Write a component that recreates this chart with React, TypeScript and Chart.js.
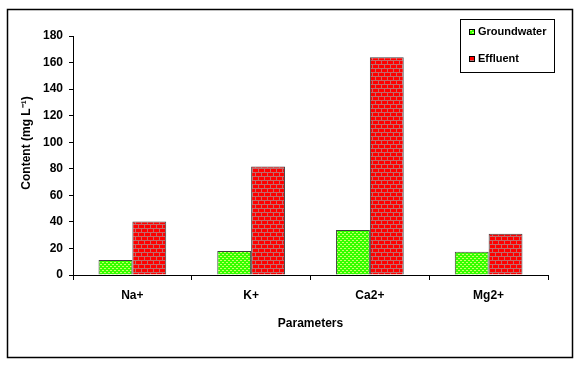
import React, { useEffect, useRef } from "react";
import { Chart, registerables } from "chart.js";

Chart.register(...registerables);

const categories = ["Na+", "K+", "Ca2+", "Mg2+"];
const groundwater = [11.3, 18, 33.8, 17.5];
const effluent = [40.3, 81.8, 164, 31];
const seriesNames = ["Groundwater", "Effluent"];
const yTicks = [0, 20, 40, 60, 80, 100, 120, 140, 160, 180];
const yTitle = "Content (mg L⁻¹)";
const xTitle = "Parameters";

function makeBrick(): CanvasPattern | string {
  const c = document.createElement("canvas");
  c.width = 12;
  c.height = 8;
  const g = c.getContext("2d");
  if (!g) return "#ff0000";
  g.fillStyle = "#ff0000";
  g.fillRect(0, 0, 12, 8);
  g.fillStyle = "#c06a6a";
  g.fillRect(0, 0, 12, 1);
  g.fillRect(0, 4, 12, 1);
  g.fillRect(0, 0, 1, 4);
  g.fillRect(6, 0, 1, 4);
  g.fillRect(3, 4, 1, 4);
  g.fillRect(9, 4, 1, 4);
  return g.createPattern(c, "repeat") || "#ff0000";
}

function makeDots(): CanvasPattern | string {
  const c = document.createElement("canvas");
  c.width = 4;
  c.height = 4;
  const g = c.getContext("2d");
  if (!g) return "#33ff00";
  g.fillStyle = "#33ff00";
  g.fillRect(0, 0, 4, 4);
  g.fillStyle = "#ccff66";
  g.fillRect(0, 0, 2, 1);
  g.fillRect(2, 2, 2, 1);
  return g.createPattern(c, "repeat") || "#33ff00";
}

export default function App() {
  const ref = useRef<HTMLCanvasElement | null>(null);
  useEffect(() => {
    if (!ref.current) return;
    const brick = makeBrick();
    const dots = makeDots();
    const fills = [dots, brick];
    const family = "'Liberation Sans', Arial, sans-serif";
    const font = { family, size: 12, weight: "bold" as const };

    const decor = {
      id: "decor",
      afterDraw(chart: any) {
        const ctx = chart.ctx;
        ctx.save();
        // outer frame
        ctx.strokeStyle = "#000";
        ctx.lineWidth = 1.5;
        ctx.strokeRect(7.5, 9.5, 565, 348);
        // y title
        ctx.save();
        ctx.translate(27, 143);
        ctx.rotate(-Math.PI / 2);
        ctx.font = `bold 12px ${family}`;
        ctx.fillStyle = "#000";
        ctx.textAlign = "center";
        ctx.textBaseline = "middle";
        ctx.fillText(yTitle, 0, 0);
        ctx.restore();
        // legend
        ctx.lineWidth = 1;
        ctx.strokeStyle = "#000";
        ctx.strokeRect(460.5, 19.5, 94, 53);
        ctx.font = `bold 11px ${family}`;
        ctx.textBaseline = "middle";
        ctx.textAlign = "left";
        const ys = [32, 59];
        seriesNames.forEach((n, i) => {
          ctx.fillStyle = fills[i];
          ctx.fillRect(469, ys[i] - 3, 6, 6);
          ctx.strokeStyle = "#000";
          ctx.strokeRect(469.5, ys[i] - 2.5, 5, 5);
          ctx.fillStyle = "#000";
          ctx.fillText(n, 478, ys[i]);
        });
        ctx.restore();
      },
    };

    const chart = new Chart(ref.current, {
      type: "bar",
      data: {
        labels: categories,
        datasets: [
          {
            label: seriesNames[0],
            data: groundwater,
            backgroundColor: dots as any,
            borderColor: "#404040",
            borderWidth: 1,
            categoryPercentage: 0.57,
            barPercentage: 1,
          },
          {
            label: seriesNames[1],
            data: effluent,
            backgroundColor: brick as any,
            borderColor: "#404040",
            borderWidth: 1,
            categoryPercentage: 0.57,
            barPercentage: 1,
          },
        ],
      },
      options: {
        responsive: false,
        animation: false,
        devicePixelRatio: 1,
        layout: { padding: { top: 36, right: 31, bottom: 0, left: 0 } },
        plugins: {
          legend: { display: false },
          tooltip: { enabled: false },
        },
        scales: {
          x: {
            grid: {
              display: true,
              drawOnChartArea: false,
              drawTicks: true,
              tickLength: 5,
              color: "#000",
              offset: true,
            },
            border: { display: true, color: "#000", width: 1 },
            ticks: { color: "#000", font, padding: 8 },
            title: {
              display: true,
              text: xTitle,
              color: "#000",
              font,
              padding: { top: 16, bottom: 35 },
            },
            afterFit(scale: any) {
              scale.height = 91;
            },
          },
          y: {
            min: 0,
            max: 180,
            afterBuildTicks(scale: any) {
              scale.ticks = yTicks.map((v) => ({ value: v }));
            },
            grid: {
              display: true,
              drawOnChartArea: false,
              drawTicks: true,
              tickLength: 4,
              color: "#000",
            },
            border: { display: true, color: "#000", width: 1 },
            ticks: { color: "#000", font, padding: 6 },
            afterFit(scale: any) {
              scale.width = 73;
            },
          },
        },
      },
      plugins: [decor],
    });
    return () => chart.destroy();
  }, []);

  return (
    <div style={{ position: "fixed", left: 0, top: 0, width: 579, height: 366, background: "#fff" }}>
      <canvas ref={ref} width={579} height={366} style={{ width: 579, height: 366, display: "block" }} />
    </div>
  );
}
